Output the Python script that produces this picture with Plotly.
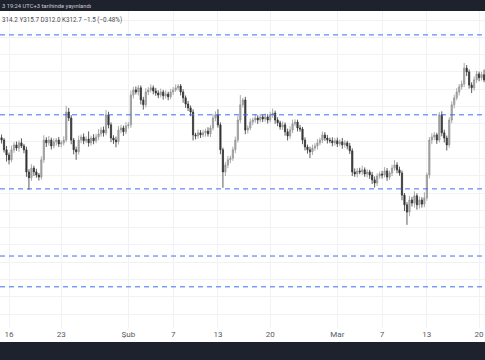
import pandas as pd
import plotly.graph_objects as go

# 8-hour candles from 2023-01-15 00:00 to 2023-03-20 16:00 (195 bars)
closes = [
    295.3, 292.5, 291.0,  289.6, 292.5, 293.9,  293.0, 294.5, 293.6,  292.5, 286.1, 284.4,
    287.2, 286.1, 285.2,  284.6, 289.6, 295.3,  294.5, 295.3, 293.6,  294.8, 295.3, 294.2,
    294.5, 295.3, 303.4,  301.7, 295.3, 292.5,  291.9, 295.3, 296.2,  295.1, 295.6, 294.5,
    295.9, 295.1, 296.2,  297.1, 298.2, 297.4,  302.6, 299.7, 295.9,  295.3, 294.8, 298.2,
    298.8, 297.7, 299.4,  299.7, 308.3, 309.8,  309.2, 310.4, 306.9,  305.5, 309.2, 309.8,
    310.4, 309.5, 308.9,  308.3, 309.2, 308.1,  308.6, 307.8, 309.2,  309.8, 310.4, 310.9,
    309.2, 307.5, 305.7,  304.6, 303.4, 296.8,  296.5, 297.4, 296.8,  297.4, 297.9, 297.1,
    298.8, 301.7, 302.6,  299.7, 292.5, 286.1,  288.1, 289.6, 290.1,  292.5, 295.3, 301.1,
    305.5, 306.9, 298.2,  298.8, 300.5, 301.1,  301.7, 301.1, 302.0,  301.4, 302.0, 301.1,
    302.6, 303.1, 301.1,  300.3, 299.1, 299.7,  297.7, 296.5, 298.2,  300.0, 300.5, 298.8,
    298.5, 295.3, 293.3,  292.5, 291.9, 293.0,  293.6, 294.5, 295.3,  296.8, 295.9, 295.3,
    295.1, 294.5, 295.1,  294.2, 294.8, 293.9,  294.5, 293.6, 292.2,  286.1, 285.5, 286.4,
    286.1, 286.7, 285.5,  286.1, 285.2, 283.8,  282.9, 284.9, 285.5,  285.2, 286.4, 284.6,
    285.8, 287.2, 288.1,  286.7, 285.8, 279.4,  276.6, 274.5, 278.0,  277.1, 279.2, 276.6,
    278.0, 276.8, 278.6,  285.2, 295.3, 296.2,  296.8, 295.3, 302.6,  297.4, 295.9, 293.9,
    301.1, 305.5, 307.5,  309.2, 310.7, 311.5,  316.1, 315.0, 311.2,  310.4, 312.7, 314.4,
    313.3, 314.2, 312.7,
]
first_open = 296.0

upper_wick = [
    0.9, 0.6, 1.1,  0.7, 1.2, 0.8,  1.0, 0.7, 1.3,  0.6, 0.9, 0.8,  1.1, 0.7, 0.9,
    0.6, 1.0, 1.4,  0.8, 1.2, 0.7,  1.0, 0.6, 0.9,  0.7, 1.1, 1.8,  1.2, 0.8, 0.6,
    0.9, 1.3, 0.7,  1.0, 0.8, 2.2,  0.7, 1.1, 0.9,  1.4, 0.8, 1.0,  1.4, 0.9, 0.7,
    0.8, 1.0, 1.2,  0.9, 0.7, 1.1,  0.8, 1.3, 0.9,  1.0, 0.8, 0.7,  0.9, 1.1, 0.8,
    1.0, 0.7, 0.9,  0.8, 1.0, 0.6,  1.1, 0.7, 0.9,  0.8, 1.0, 0.6,  0.6, 0.8, 0.7,
    0.9, 0.7, 0.8,  0.6, 1.0, 0.8,  0.9, 0.7, 1.1,  0.8, 1.2, 1.0,  1.6, 0.7, 0.6,
    0.8, 1.1, 0.7,  0.9, 1.0, 1.2,  2.8, 0.6, 0.9,  0.8, 1.0, 0.7,  1.1, 0.8, 0.9,
    0.7, 1.0, 0.8,  0.9, 1.3, 0.7,  0.8, 0.6, 1.0,  0.7, 0.9, 1.1,  1.2, 0.8, 0.7,
    0.9, 0.6, 0.8,  0.7, 0.9, 1.0,  0.8, 1.1, 0.7,  1.0, 0.8, 0.9,  0.7, 1.0, 0.8,
    0.9, 0.7, 1.1,  0.8, 0.6, 0.9,  0.7, 1.0, 0.8,  0.9, 1.2, 0.7,  0.8, 0.6, 0.9,
    1.0, 0.8, 0.7,  0.9, 1.1, 0.8,  0.7, 1.0, 1.4,  0.8, 0.9, 0.7,  0.6, 0.8, 1.2,
    0.9, 1.3, 0.7,  1.0, 0.8, 1.6,  0.7, 0.9, 1.1,  0.8, 0.6, 0.8,  1.0, 0.9, 0.7,
    0.8, 1.0, 0.9,  1.1, 0.8, 1.0,  1.5, 0.9, 0.7,  0.8, 1.0, 0.9,  0.7, 0.8, 1.5,
]
lower_wick = [
    1.0, 0.8, 1.9,  1.3, 0.7, 0.9,  0.8, 1.1, 0.6,  1.0, 1.4, 3.5,  0.9, 1.2, 0.8,
    1.0, 0.7, 0.9,  1.2, 0.8, 1.0,  0.7, 1.1, 0.9,  1.0, 0.8, 0.6,  0.9, 1.2, 1.3,
    2.3, 0.8, 0.9,  1.0, 0.7, 1.1,  0.8, 1.0, 0.7,  0.9, 0.8, 1.1,  0.7, 1.0, 1.2,
    1.1, 1.6, 0.8,  0.9, 1.2, 0.7,  0.8, 0.9, 1.0,  0.7, 1.0, 1.3,  1.4, 0.8, 0.9,
    0.7, 1.0, 0.8,  0.9, 0.7, 1.1,  0.8, 1.0, 0.7,  0.9, 0.6, 0.8,  1.0, 1.4, 1.1,
    0.9, 1.2, 1.6,  1.0, 0.8, 0.9,  0.7, 1.1, 0.8,  0.9, 0.7, 1.0,  0.8, 1.3, 4.6,
    1.2, 0.9, 1.0,  0.8, 1.0, 0.7,  0.9, 0.8, 1.2,  1.0, 0.7, 0.9,  0.8, 1.1, 0.7,
    0.9, 0.8, 1.0,  0.7, 0.9, 1.1,  1.0, 0.8, 0.9,  1.1, 1.3, 0.8,  0.9, 0.7, 1.0,
    0.8, 1.2, 1.0,  1.1, 1.8, 0.9,  0.8, 1.0, 0.7,  0.9, 0.8, 1.0,  0.7, 1.0, 0.8,
    0.9, 0.7, 1.1,  0.8, 1.0, 0.9,  1.2, 0.8, 1.0,  0.7, 0.9, 0.8,  1.0, 1.1, 1.2,
    1.3, 0.9, 0.8,  1.0, 0.7, 1.1,  0.8, 0.9, 0.7,  1.0, 0.8, 1.5,  1.8, 3.7, 1.2,
    1.0, 1.3, 1.4,  1.1, 1.0, 0.9,  0.8, 1.0, 1.2,  0.9, 1.1, 0.7,  1.0, 1.3, 1.6,
    0.8, 0.9, 1.0,  0.7, 1.0, 0.8,  0.9, 1.2, 1.0,  1.5, 0.8, 0.9,  1.0, 0.8, 0.7,
]

levels = [325.7, 302.6, 281.2, 261.8, 252.9]

tick_dates = ["2023-01-16", "2023-01-23", "2023-02-01", "2023-02-07", "2023-02-13",
              "2023-02-20", "2023-03-01", "2023-03-07", "2023-03-13", "2023-03-20"]
tick_labels = ["16", "23", "Şub", "7", "13", "20", "Mar", "7", "13", "20"]

header_text = "3 19:24 UTC+3 tarihinde yayınlandı"
ohlc_text = "314.2 Y315.7 D312.0 K312.7 −1.5 (−0.48%)"

times = pd.date_range("2023-01-15 00:00", periods=len(closes), freq="8h")
opens = [first_open] + closes[:-1]
highs = [max(o, c) + w for o, c, w in zip(opens, closes, upper_wick)]
lows = [min(o, c) - w for o, c, w in zip(opens, closes, lower_wick)]

fig = go.Figure()
fig.add_trace(go.Candlestick(
    x=times, open=opens, high=highs, low=lows, close=closes,
    increasing=dict(line=dict(color="#959595", width=0.8), fillcolor="#a8a8a8"),
    decreasing=dict(line=dict(color="#333333", width=0.8), fillcolor="#333333"),
    whiskerwidth=0, hoverinfo="skip", showlegend=False,
))

H = 360
t_m, b_m = 11, 32
ph = H - t_m - b_m

shapes = []
for lv in levels:
    shapes.append(dict(type="line", xref="paper", x0=0, x1=1, yref="y", y0=lv, y1=lv,
                       line=dict(color="#3d6ef5", width=1, dash="5px,4px"), layer="above"))
# dark bars top and bottom
shapes.append(dict(type="rect", xref="paper", x0=-0.01, x1=1.01, yref="paper",
                   y0=1, y1=1 + (t_m + 2) / ph, fillcolor="#1e222d", line=dict(width=0), layer="above"))
shapes.append(dict(type="rect", xref="paper", x0=-0.01, x1=1.01, yref="paper",
                   y0=-(342 - (H - b_m)) / ph, y1=-(H - (H - b_m) + 2) / ph,
                   fillcolor="#1e222d", line=dict(width=0), layer="above"))

annotations = [
    dict(text=header_text, xref="paper", yref="paper", x=0, y=1 + 5.5 / ph,
         xanchor="left", yanchor="middle", showarrow=False,
         font=dict(family="Roboto", size=5.8, color="#c9cbd1")),
    dict(text=ohlc_text, xref="paper", yref="paper", x=0, y=1 - 9 / ph,
         xanchor="left", yanchor="middle", showarrow=False,
         font=dict(family="Roboto", size=6.3, color="#4a4a4a")),
]

fig.update_layout(
    width=485, height=H, autosize=False,
    margin=dict(l=0, r=0, t=t_m, b=b_m),
    paper_bgcolor="#ffffff", plot_bgcolor="#ffffff",
    shapes=shapes, annotations=annotations,
    xaxis=dict(type="date", range=["2023-01-14 19:00", "2023-03-20 19:00"],
               rangeslider=dict(visible=False), showgrid=True, gridcolor="#f1f2f5",
               tickvals=tick_dates, ticktext=tick_labels, ticks="",
               tickfont=dict(family="Roboto", size=8, color="#555a66"),
               showline=False, zeroline=False, fixedrange=True),
    yaxis=dict(range=[241.0, 332.6], dtick=5, showgrid=True, gridcolor="#f1f2f5",
               showticklabels=False, zeroline=False, showline=False, fixedrange=True),
    hovermode=False,
)

fig.write_html("out.html", config={"displayModeBar": False},
               post_script="document.body.style.margin='0';document.body.style.overflow='hidden';")
